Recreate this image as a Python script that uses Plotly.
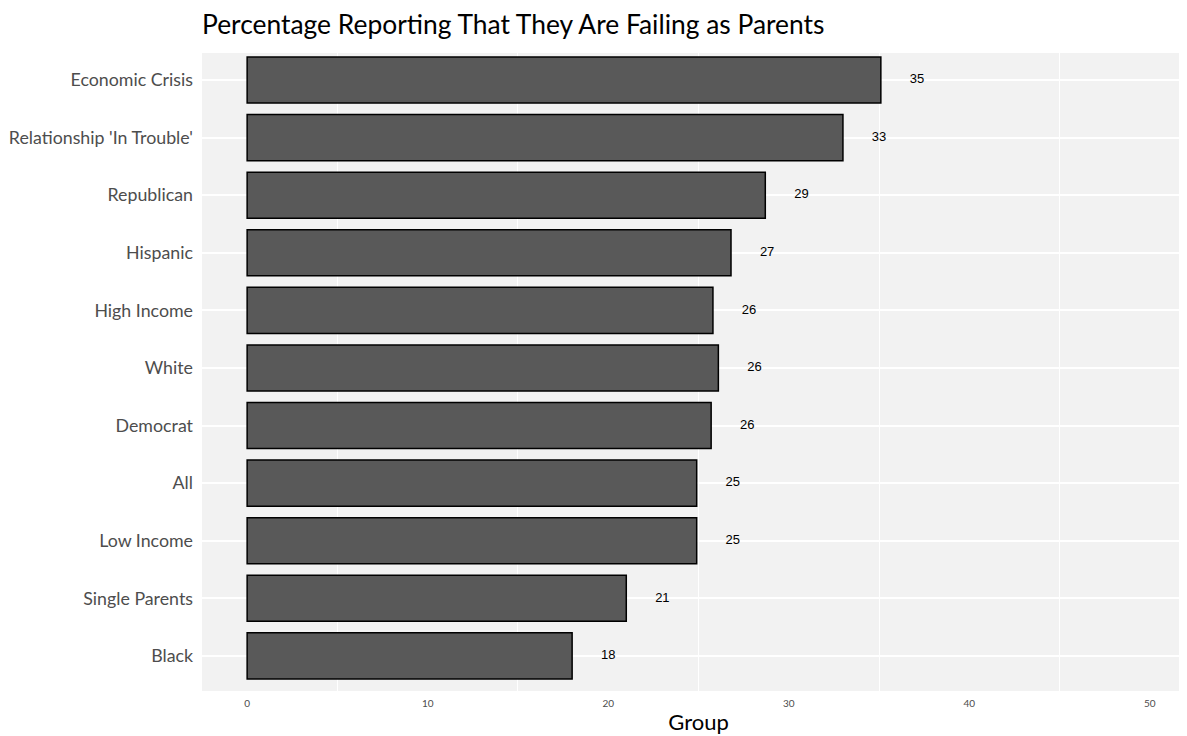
import plotly.graph_objects as go

# Data (top to bottom in the reference)
groups = ["Economic Crisis", "Relationship 'In Trouble'", "Republican", "Hispanic",
          "High Income", "White", "Democrat", "All", "Low Income",
          "Single Parents", "Black"]
values = [35.1, 33.0, 28.7, 26.8, 25.8, 26.1, 25.7, 24.9, 24.9, 21.0, 18.0]
labels = ["35", "33", "29", "27", "26", "26", "26", "25", "25", "21", "18"]
x_ticks = [0, 10, 20, 30, 40, 50]

label_offset = 2
label_x = [v + label_offset for v in values]

W, H = 1187, 728

fig = go.Figure()
fig.add_trace(go.Bar(
    y=groups, x=values, orientation="h", width=0.8,
    marker=dict(color="#595959", line=dict(color="#000000", width=1.5)),
    showlegend=False, hoverinfo="x+y",
))
fig.add_trace(go.Scatter(
    y=groups, x=label_x, mode="text", text=labels,
    textfont=dict(family="Liberation Sans, Arial, sans-serif", size=13, color="#000000"),
    textposition="middle center", showlegend=False, hoverinfo="skip",
))

fig.update_layout(
    width=W, height=H,
    margin=dict(l=194, r=0, t=45, b=45),
    paper_bgcolor="#FFFFFF",
    plot_bgcolor="#F2F2F2",
    font=dict(family="Lato, sans-serif"),
    title=dict(text="Percentage Reporting That They Are Failing as Parents",
               x=194 / W, xanchor="left", xref="container",
               y=1 - 17 / H, yanchor="middle", yref="container",
               font=dict(family="Lato, sans-serif", size=26.4, color="#000000")),
    bargap=0.2,
)
fig.update_xaxes(
    range=[-2.5, 52.5], tickvals=x_ticks, ticktext=[str(t) for t in x_ticks],
    showgrid=False, zeroline=False, ticks="", showline=False,
    minor=dict(showgrid=True, gridcolor="#FFFFFF", gridwidth=1.2, tick0=5, dtick=10),
    tickfont=dict(family="Lato, sans-serif", size=10, color="#4D4D4D"),
    title=dict(text="Group", font=dict(family="Lato, sans-serif", size=22, color="#000000"),
               standoff=6),
    ticklabelstandoff=5,
)
fig.update_yaxes(
    categoryorder="array", categoryarray=list(reversed(groups)),
    range=[-0.61, 10.47],
    showgrid=True, gridcolor="#FFFFFF", gridwidth=1.5,
    zeroline=False, ticks="", showline=False,
    tickfont=dict(family="Lato, sans-serif", size=17.8, color="#4D4D4D"),
    ticklabelstandoff=8,
)

fig.write_html("out.html")
